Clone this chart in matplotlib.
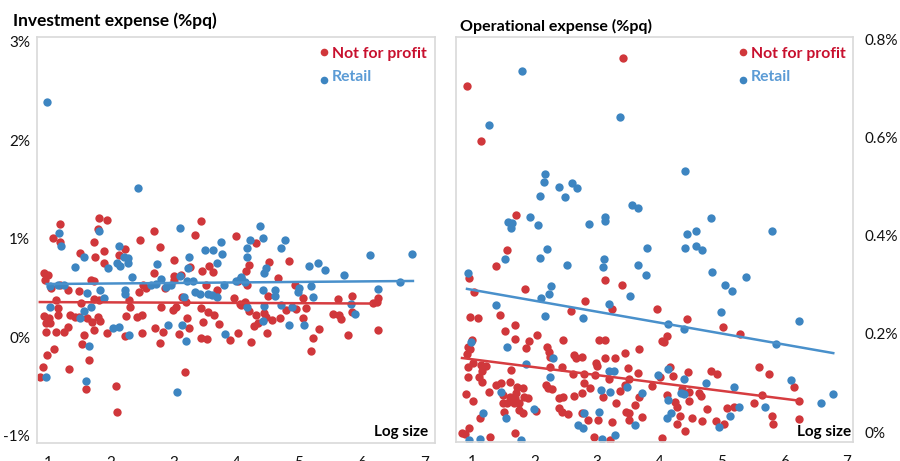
import matplotlib
matplotlib.use("Agg")
import matplotlib.pyplot as plt
from matplotlib.ticker import FuncFormatter

plt.rcParams['font.family'] = ['Lato', 'DejaVu Sans']

# ---------------- data: Investment expense (%pq) ----------------
inv_nfp_x = [1.81, 1.94, 1.19, 1.08, 1.19, 1.80, 1.73, 1.51, 1.75, 1.89,
             1.89, 2.23, 2.13, 2.47, 2.69, 2.79, 3.01, 3.44, 3.34, 4.00,
             3.57, 3.63, 3.26, 3.46, 3.12, 3.01, 2.69, 0.94, 1.00, 0.95,
             1.05, 1.19, 1.69, 1.73, 1.49, 1.32, 2.45, 2.52, 2.56, 2.87,
             3.01, 3.52, 3.70, 3.97, 4.03,
             1.13, 1.16, 1.16, 0.94, 1.02, 0.97, 1.03, 0.97, 1.13, 1.26,
             1.32, 1.35, 1.43, 1.49, 1.53, 1.62, 1.70, 1.73, 1.81, 1.80,
             1.83, 1.73, 1.57, 1.54, 1.94, 2.23, 2.24, 2.31, 2.29, 2.42,
             2.50, 2.50, 2.71, 2.80, 2.83, 2.79, 2.99, 3.04, 3.09, 3.22,
             3.25, 3.18, 3.14, 3.20, 3.44, 3.47, 3.44, 3.54, 3.55, 3.65,
             3.73, 3.90, 4.03, 4.06,
             0.98, 1.10, 0.92, 0.87, 1.33, 1.65, 1.61, 2.08, 2.10,
             4.32, 4.21, 4.16, 4.52, 4.84, 4.08, 4.17, 4.67, 4.51, 4.94,
             5.07, 5.63, 5.85, 6.26, 6.25, 6.18, 4.08, 4.14, 4.21, 4.32,
             4.44, 4.48, 4.57, 4.29, 4.35, 4.70, 4.80, 4.96, 5.11, 5.07,
             4.49, 4.24, 5.32, 5.23, 5.19, 5.55, 5.64, 5.67, 5.85, 5.78,
             6.26]
inv_nfp_y = [1.21, 1.19, 1.15, 1.01, 0.96, 1.10, 0.96, 0.85, 0.81, 0.87,
             0.75, 0.89, 0.83, 0.99, 1.08, 0.91, 0.78, 1.18, 1.04, 1.03,
             0.72, 0.66, 0.71, 0.67, 0.63, 0.62, 0.65, 0.65, 0.63, 0.58,
             0.50, 0.53, 0.58, 0.57, 0.47, 0.48, 0.46, 0.53, 0.50, 0.50,
             0.58, 0.53, 0.48, 0.40, 0.57,
             0.38, 0.29, 0.22, 0.21, 0.19, 0.14, 0.14, 0.05, 0.05, 0.05,
             0.10, 0.22, 0.20, 0.20, 0.35, 0.19, 0.15, 0.39, 0.38, 0.20,
             0.16, 0.07, 0.02, -0.07, 0.04, 0.01, 0.21, 0.30, 0.38, 0.20,
             0.22, 0.04, 0.09, 0.30, 0.05, -0.06, 0.27, 0.30, 0.03, 0.19,
             0.09, -0.36, 0.41, 0.36, 0.29, 0.15, -0.01, -0.02, 0.25, 0.22,
             0.13, -0.03, 0.04, 0.34,
             -0.18, -0.12, -0.30, -0.41, -0.32, -0.23, -0.53, -0.50, -0.76,
             0.95, 0.73, 0.67, 0.76, 0.77, 0.60, 0.53, 0.60, 0.42, 0.53,
             0.40, 0.39, 0.42, 0.40, 0.36, 0.35, 0.32, 0.36, 0.26, 0.22,
             0.24, 0.20, 0.17, 0.11, 0.14, 0.19, 0.27, 0.28, 0.29, 0.19,
             0.04, -0.05, 0.08, -0.01, -0.14, 0.23, 0.22, 0.18, 0.25, 0.02,
             0.07]

inv_ret_x = [0.98, 2.44, 3.06, 1.61, 0.97, 1.65, 1.18, 1.21, 1.81, 1.57,
             1.43, 1.96, 2.13, 2.21, 2.28, 2.28, 2.10, 2.15, 2.74, 3.11,
             3.76, 3.50, 3.63, 3.78, 3.70, 3.25, 3.23, 3.11, 2.34, 1.16,
             1.26, 1.03, 1.83, 1.62, 2.23, 2.23, 2.64, 2.72, 2.80, 2.88,
             2.96, 3.22, 3.31, 3.34, 3.42, 3.55, 3.62, 3.70, 3.81, 4.00,
             4.08, 1.03, 1.51, 1.57, 1.69, 1.89, 2.04, 2.13, 2.29, 2.91,
             3.14, 3.20, 3.17, 3.82, 4.38, 4.22, 4.43, 4.17, 4.78, 4.72,
             4.17, 4.48, 4.44, 5.16, 5.31, 5.42, 5.72, 6.14, 6.81, 4.14,
             6.61, 4.43, 4.62, 4.62, 5.00, 4.99, 5.19, 5.23, 6.26, 4.17,
             4.44, 4.43, 4.72, 4.89, 4.84, 5.08, 5.83, 5.90]
inv_ret_y = [2.39, 1.51, -0.56, -0.45, -0.41, -0.09, 1.06, 0.92, 1.08, 0.81,
             0.71, 0.70, 0.92, 0.81, 0.80, 0.75, 0.75, 0.72, 0.74, 1.11,
             0.96, 0.88, 0.88, 0.84, 0.75, 0.81, 0.70, 0.62, 0.61, 0.53,
             0.53, 0.52, 0.48, 0.45, 0.48, 0.44, 0.53, 0.54, 0.59, 0.51,
             0.53, 0.57, 0.57, 0.46, 0.44, 0.44, 0.43, 0.41, 0.53, 0.57,
             0.61, 0.30, 0.19, 0.26, 0.30, 0.40, 0.09, 0.10, 0.02, 0.12,
             0.12, -0.04, 0.41, 0.03, 1.13, 0.98, 1.01, 0.90, 0.99, 0.90,
             0.81, 0.70, 0.65, 0.72, 0.75, 0.68, 0.63, 0.83, 0.84, 0.56,
             0.56, 0.48, 0.48, 0.42, 0.50, 0.46, 0.52, 0.41, 0.49, 0.30,
             0.31, 0.16, 0.32, 0.30, 0.12, 0.12, 0.34, 0.23]

inv_nfp_trend_x = [0.87, 6.15]
inv_nfp_trend_y = [0.355, 0.34]
inv_ret_trend_x = [0.98, 6.82]
inv_ret_trend_y = [0.538, 0.569]

# ---------------- data: Operational expense (%pq) ----------------
op_nfp_x = [0.92, 3.42, 1.14, 1.70, 1.56, 1.38, 0.95, 1.03, 1.85, 3.13,
            3.40, 2.81, 3.24, 2.58, 3.96, 4.44, 5.02, 5.29, 0.97, 1.10,
            1.45, 1.69, 1.53, 1.69, 1.91, 2.04, 2.46, 3.03, 3.13, 4.04,
            4.12, 4.07, 1.00, 0.94, 0.97, 0.92, 1.86, 2.20, 3.67, 3.45,
            2.63, 2.76, 2.66, 2.23, 2.25, 3.13, 3.29, 2.98, 3.00, 1.02,
            0.94, 1.14, 1.22, 1.16, 1.62, 2.25, 2.44, 2.62, 2.79, 2.97,
            3.50, 3.66, 3.19, 3.51, 4.01, 4.17, 4.46, 4.22, 4.82, 4.92,
            5.59, 5.75, 6.15, 0.94, 1.11, 1.16, 1.27, 1.38, 1.46, 1.61,
            1.72, 1.82, 2.18, 2.22, 2.28, 2.79, 2.89, 3.45, 3.88, 4.36,
            3.67, 2.76, 2.63, 2.46, 2.39, 3.10, 3.37, 3.30, 3.51, 3.61,
            3.51, 3.72, 0.90, 1.02, 1.50, 1.50, 1.56, 1.61, 1.69, 1.67,
            1.75, 1.70, 1.75, 1.83, 1.90, 1.51, 1.82, 2.02, 1.13, 2.39,
            2.44, 2.54, 2.76, 2.86, 3.02, 3.24, 3.46, 2.95, 3.21, 0.84,
            0.89, 0.95, 1.29, 1.69, 4.47, 4.63, 4.66, 4.47, 4.12, 4.25,
            4.28, 4.33, 4.28, 4.41, 4.04, 4.52, 4.68, 4.76, 4.90, 5.03,
            5.08, 5.19, 5.51, 5.64, 5.80, 5.82, 6.23, 6.23]
op_nfp_y = [0.706, 0.763, 0.594, 0.443, 0.371, 0.339, 0.314, 0.286, 0.292, 0.310,
            0.300, 0.267, 0.251, 0.247, 0.251, 0.231, 0.214, 0.200, 0.235, 0.233,
            0.239, 0.218, 0.206, 0.190, 0.186, 0.198, 0.188, 0.188, 0.188, 0.186,
            0.196, 0.184, 0.188, 0.173, 0.169, 0.159, 0.171, 0.173, 0.169, 0.161,
            0.157, 0.153, 0.151, 0.163, 0.153, 0.151, 0.151, 0.141, 0.135, 0.141,
            0.133, 0.137, 0.135, 0.124, 0.127, 0.133, 0.133, 0.118, 0.118, 0.116,
            0.131, 0.120, 0.108, 0.108, 0.112, 0.133, 0.122, 0.114, 0.124, 0.118,
            0.133, 0.118, 0.092, 0.112, 0.112, 0.102, 0.082, 0.096, 0.100, 0.102,
            0.092, 0.090, 0.096, 0.090, 0.088, 0.100, 0.090, 0.096, 0.094, 0.088,
            0.071, 0.080, 0.073, 0.071, 0.069, 0.071, 0.084, 0.059, 0.039, 0.055,
            0.024, 0.031, 0.078, 0.063, 0.076, 0.059, 0.059, 0.071, 0.069, 0.059,
            0.059, 0.080, 0.045, 0.071, 0.069, 0.041, 0.039, 0.043, 0.029, 0.049,
            0.041, 0.037, 0.039, 0.024, 0.024, 0.020, 0.041, -0.010, -0.016, -0.002,
            -0.004, 0.008, -0.010, -0.002, 0.082, 0.080, 0.073, 0.063, 0.076, 0.061,
            0.051, 0.033, 0.016, 0.002, -0.012, 0.029, 0.022, 0.047, 0.022, 0.016,
            0.049, 0.051, 0.059, 0.076, 0.033, 0.016, 0.063, 0.027]

op_ret_x = [1.80, 3.37, 1.27, 2.17, 2.15, 2.39, 2.60, 2.68, 2.09, 2.49,
            4.41, 1.58, 1.64, 1.62, 1.93, 2.06, 2.87, 3.13, 3.13, 3.56,
            3.66, 4.82, 4.44, 4.58, 5.80, 2.20, 3.80, 4.41, 4.58, 4.68,
            1.53, 2.09, 3.11, 0.94, 2.52, 3.10, 3.66, 3.78, 4.84, 5.38,
            5.05, 5.16, 2.26, 2.23, 2.10, 1.38, 3.53, 3.19, 4.98, 6.23,
            4.14, 4.39, 5.86, 2.17, 2.78, 0.98, 1.56, 2.30, 1.86, 3.19,
            3.27, 4.14, 3.98, 4.39, 4.74, 5.19, 6.10, 2.25, 3.48, 3.72,
            3.06, 3.21, 1.46, 1.99, 1.18, 1.54, 2.79, 3.03, 2.70, 2.78,
            3.61, 3.29, 3.08, 0.95, 1.13, 1.78, 4.34, 4.39, 4.14, 4.18,
            4.12, 4.95, 5.13, 5.27, 5.69, 6.58, 6.78]
op_ret_y = [0.737, 0.643, 0.627, 0.527, 0.510, 0.500, 0.508, 0.498, 0.482, 0.480,
            0.533, 0.429, 0.427, 0.416, 0.439, 0.422, 0.424, 0.439, 0.431, 0.463,
            0.457, 0.437, 0.404, 0.410, 0.410, 0.373, 0.376, 0.376, 0.380, 0.371,
            0.353, 0.355, 0.353, 0.324, 0.341, 0.337, 0.341, 0.320, 0.327, 0.316,
            0.300, 0.288, 0.298, 0.282, 0.273, 0.259, 0.278, 0.261, 0.245, 0.227,
            0.220, 0.210, 0.180, 0.237, 0.233, 0.184, 0.173, 0.151, 0.139, 0.124,
            0.124, 0.129, 0.116, 0.108, 0.100, 0.092, 0.106, 0.112, 0.092, 0.080,
            0.086, 0.082, 0.082, 0.047, 0.039, 0.029, 0.039, 0.041, 0.014, 0.008,
            0.014, -0.006, -0.014, -0.016, -0.014, -0.016, 0.080, 0.078, 0.065, 0.039,
            0.029, 0.010, 0.033, 0.051, 0.051, 0.059, 0.078]

op_nfp_trend_x = [0.84, 6.23]
op_nfp_trend_y = [0.151, 0.064]
op_ret_trend_x = [0.92, 6.78]
op_ret_trend_y = [0.292, 0.161]

series_labels = ["Not for profit", "Retail"]
titles = ["Investment expense (%pq)", "Operational expense (%pq)"]
x_ticks = [1, 2, 3, 4, 5, 6, 7]
inv_y_ticks = [-1, 0, 1, 2, 3]
op_y_ticks = [0, 0.2, 0.4, 0.6, 0.8]

# ---------------- styling ----------------
RED = '#D0373B'
BLUE = '#3D85C1'
RED_LINE = '#D63C40'
BLUE_LINE = '#4990CB'
RED_TXT = '#C8102E'
BLUE_TXT = '#5B9BD5'
FRAME = '#D9D9D9'

W, H = 900, 461
fig = plt.figure(figsize=(W / 100, H / 100), dpi=100)


def ax_rect(l, r, t, b):
    return [l / W, (H - b) / H, (r - l) / W, (b - t) / H]


axL = fig.add_axes(ax_rect(37, 435, 37, 443))
axR = fig.add_axes(ax_rect(456, 853, 37, 442))

MS = 36

# Left panel
axL.scatter(inv_nfp_x, inv_nfp_y, s=MS, color=RED, linewidths=0, zorder=2)
axL.scatter(inv_ret_x, inv_ret_y, s=MS, color=BLUE, linewidths=0, zorder=2)
axL.plot(inv_ret_trend_x, inv_ret_trend_y, color=BLUE_LINE, lw=1.8, zorder=3)
axL.plot(inv_nfp_trend_x, inv_nfp_trend_y, color=RED_LINE, lw=1.8, zorder=3)
axL.set_xlim(0.825, 7.172)
axL.set_ylim(-1.076, 3.046)
axL.set_yticks(inv_y_ticks)
axL.yaxis.set_major_formatter(FuncFormatter(lambda v, p: f"{v:.0f}%"))

# Right panel
axR.scatter(op_nfp_x, op_nfp_y, s=MS, color=RED, linewidths=0, zorder=2)
axR.scatter(op_ret_x, op_ret_y, s=MS, color=BLUE, linewidths=0, zorder=2)
axR.plot(op_ret_trend_x, op_ret_trend_y, color=BLUE_LINE, lw=1.8, zorder=3)
axR.plot(op_nfp_trend_x, op_nfp_trend_y, color=RED_LINE, lw=1.8, zorder=3)
axR.set_xlim(0.744, 7.096)
axR.set_ylim(-0.0204, 0.806)
axR.set_yticks(op_y_ticks)
axR.yaxis.tick_right()
axR.yaxis.set_major_formatter(FuncFormatter(lambda v, p: "0%" if v == 0 else f"{v:.1f}%"))

for ax in (axL, axR):
    ax.set_xticks(x_ticks)
    for s in ax.spines.values():
        s.set_color(FRAME)
        s.set_linewidth(1.2)
    ax.tick_params(axis='both', length=0, labelsize=11, labelcolor='#111111')
    ax.tick_params(axis='x', pad=9)
axL.tick_params(axis='y', pad=5)
axR.tick_params(axis='y', pad=8)


def fx(px):
    return px / W


def fy(py):
    return (H - py) / H


# titles
fig.text(fx(13), fy(26), titles[0], fontsize=12.5, fontweight='bold', color='#000000', va='baseline', ha='left')
fig.text(fx(460), fy(31), titles[1], fontsize=11.5, fontweight='bold', color='#000000', va='baseline', ha='left')

# legends
for dot_x, txt_x in ((324, 332), (743, 751)):
    fig.text(fx(txt_x), fy(58), series_labels[0], fontsize=11.3, fontweight='bold', color=RED_TXT, va='baseline', ha='left')
    fig.text(fx(txt_x), fy(81), series_labels[1], fontsize=11.3, fontweight='bold', color=BLUE_TXT, va='baseline', ha='left')
    fig.lines.append(plt.Line2D([fx(dot_x)], [fy(52)], marker='o', ms=5.5, color=RED, mew=0, transform=fig.transFigure))
    fig.lines.append(plt.Line2D([fx(dot_x)], [fy(80)], marker='o', ms=5.5, color=BLUE, mew=0, transform=fig.transFigure))

# axis captions
fig.text(fx(428), fy(436), "Log size", fontsize=11, fontweight='bold', color='#000000', va='baseline', ha='right')
fig.text(fx(851), fy(436), "Log size", fontsize=11, fontweight='bold', color='#000000', va='baseline', ha='right')

fig.savefig("out.png", dpi=100)
